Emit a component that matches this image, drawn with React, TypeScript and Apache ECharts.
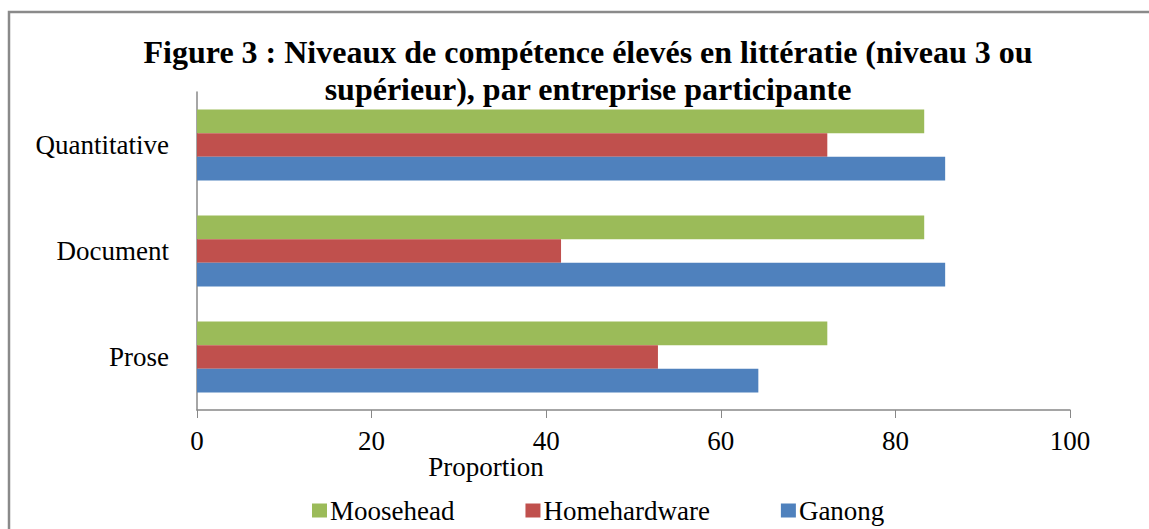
import React, { useEffect, useRef } from "react";
import * as echarts from "echarts";

const categories = ["Prose", "Document", "Quantitative"];
const seriesNames = ["Moosehead", "Homehardware", "Ganong"];
const moosehead = [72.2, 83.3, 83.3];
const homehardware = [52.8, 41.7, 72.2];
const ganong = [64.3, 85.7, 85.7];
const xTicks = [0, 20, 40, 60, 80, 100];
const colors = ["#9BBB59", "#C0504D", "#4F81BD"];
const titleText = "Figure 3 : Niveaux de compétence élevés en littératie (niveau 3 ou\nsupérieur), par entreprise participante";
const xAxisTitle = "Proportion";

const FONT = "'Liberation Serif', 'Times New Roman', serif";

export default function App() {
  const ref = useRef<HTMLDivElement>(null);
  useEffect(() => {
    if (!ref.current) return;
    const chart = echarts.init(ref.current, undefined, { renderer: "svg" });
    const values = [moosehead, homehardware, ganong];
    chart.setOption({
      animation: false,
      backgroundColor: "#ffffff",
      title: {
        text: titleText,
        left: 583,
        top: 28,
        textAlign: "center",
        textStyle: {
          fontFamily: FONT,
          fontWeight: "bold",
          fontSize: 32,
          lineHeight: 37,
          color: "#000",
        },
      },
      legend: {
        data: seriesNames,
        left: 307,
        top: 492,
        icon: "rect",
        itemWidth: 15,
        itemHeight: 14,
        itemGap: 71,
        textStyle: { fontFamily: FONT, fontSize: 27, color: "#000", padding: [0, 0, 0, -2] },
      },
      grid: { left: 197, right: 79, top: 92, bottom: 119, containLabel: false },
      xAxis: {
        type: "value",
        min: xTicks[0],
        max: xTicks[xTicks.length - 1],
        interval: 20,
        axisLine: { show: true, lineStyle: { color: "#888", width: 1.5 } },
        axisTick: { show: true, inside: false, length: 8, lineStyle: { color: "#888" } },
        splitLine: { show: false },
        axisLabel: { fontFamily: FONT, fontSize: 27, color: "#000", margin: 17 },
      },
      yAxis: {
        type: "category",
        data: categories,
        axisLine: { show: true, lineStyle: { color: "#888", width: 1.5 } },
        axisTick: { show: false },
        axisLabel: { fontFamily: FONT, fontSize: 27, color: "#000", margin: 28 },
      },
      graphic: [
        {
          type: "rect",
          shape: { x: 9, y: 12, width: 1300, height: 700 },
          style: { fill: "none", stroke: "#8a8a8a", lineWidth: 2.5 },
          silent: true,
        },
        {
          type: "text",
          x: 486,
          y: 467,
          style: {
            text: xAxisTitle,
            fontFamily: FONT,
            fontSize: 27,
            fill: "#000",
            textAlign: "center",
            textVerticalAlign: "middle",
          },
        },
      ],
      series: seriesNames.map((name, i) => ({
        name,
        type: "bar",
        data: values[i],
        barGap: "0%",
        barCategoryGap: "33%",
        itemStyle: { color: colors[i] },
      })),
    });
    return () => chart.dispose();
  }, []);
  return (
    <div
      ref={ref}
      style={{ position: "fixed", left: 0, top: 0, width: 1149, height: 529 }}
    />
  );
}
